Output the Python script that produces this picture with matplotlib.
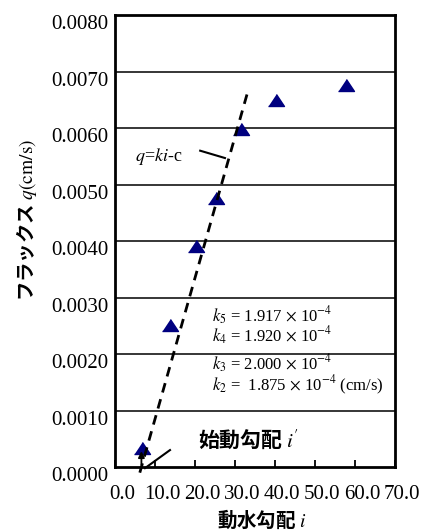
import numpy as np
import matplotlib.pyplot as plt
import matplotlib.transforms as mtransforms

plt.rcParams['font.family'] = ['Liberation Serif', 'Noto Sans CJK JP']
plt.rcParams['mathtext.fontset'] = 'stix'

# 測定データ（動水勾配 i, フラックス q）
i_vals = [6.7, 13.75, 20.25, 25.25, 31.4, 40.3, 57.8]
q_vals = [0.00034, 0.00251, 0.00391, 0.00477, 0.00599, 0.00649, 0.00677]

# 近似直線 q = k i - c の両端
fit_i = [6.2, 33.3]
fit_q = [-0.0001, 0.00667]

x_ticks = [0, 10, 20, 30, 40, 50, 60, 70]
y_ticks = [0.000, 0.001, 0.002, 0.003, 0.004, 0.005, 0.006, 0.007, 0.008]

k_labels = [
    r"$k_5$ = 1.917 $\times$ 10$^{-4}$",
    r"$k_4$ = 1.920 $\times$ 10$^{-4}$",
    r"$k_3$ = 2.000 $\times$ 10$^{-4}$",
    r"$k_2$ =  1.875 $\times$ 10$^{-4}$ (cm/s)",
]
k_y = [0.00268, 0.00232, 0.00183, 0.00144]

fig = plt.figure(figsize=(4.26, 5.31), dpi=100)
ax = fig.add_axes([0.270, 0.1205, 0.657, 0.851])

# グリッド（横線のみ）
for yv in y_ticks[1:-1]:
    ax.axhline(yv, color='black', lw=1.1, zorder=1)

ax.plot(fit_i, fit_q, color='black', lw=2.0, ls=(0, (3.5, 2.5)), zorder=3,
        clip_on=False)

tri = [(-1, -0.75), (1, -0.75), (0, 0.75)]
ax.plot(i_vals, q_vals, ls='none', marker=tri, markersize=11.5,
        color='#000080', zorder=2)

ax.set_xlim(0, 70)
ax.set_ylim(0, 0.008)
ax.set_xticks(x_ticks)
ax.set_xticklabels([f"{v:.1f}" for v in x_ticks])
ax.set_yticks(y_ticks)
ax.set_yticklabels([f"{v:.4f}" for v in y_ticks])
ax.tick_params(axis='x', direction='in', length=5, width=1.3, pad=13,
               labelsize=15)
ax.tick_params(axis='y', length=0, pad=5, labelsize=15)
for s in ax.spines.values():
    s.set_linewidth(2.0)

# ラベルの位置ずれ（元図の通り少し右・下）
dx = mtransforms.ScaledTranslation(7 / 100, 0, fig.dpi_scale_trans)
for lab in ax.get_xticklabels():
    lab.set_transform(lab.get_transform() + dx)
dy = mtransforms.ScaledTranslation(0, -7 / 100, fig.dpi_scale_trans)
for lab in ax.get_yticklabels():
    lab.set_transform(lab.get_transform() + dy)

# 注記
ax.text(5.0, 0.0055, r"$q$=$ki$-c", fontsize=13, va='center', ha='left')
ax.plot([21.3, 27.5], [0.00560, 0.00547], color='black', lw=1.5)

for lab, yv in zip(k_labels, k_y):
    ax.text(24.2, yv, lab, fontsize=12, va='center', ha='left')

ax.text(20.8, 0.00049, "始動勾配 $i'$", fontsize=15, va='center', ha='left',
        family=['Noto Sans CJK JP', 'DejaVu Sans'], fontweight='bold')
ax.plot([13.75, 7.5], [0.00030, -0.00002], color='black', lw=1.5,
        clip_on=False)
ax.annotate('', xy=(6.6, 0.00033), xytext=(6.6, -0.00001),
            arrowprops=dict(arrowstyle='-|>', color='black', lw=1.3,
                            mutation_scale=9), annotation_clip=False)

fig.text(262 / 426, 1 - 519 / 531, r"動水勾配 $i$", fontsize=14,
         ha='center', va='center', fontweight='bold',
         family=['Noto Sans CJK JP', 'DejaVu Sans'])
fig.text(27 / 426, 1 - 220 / 531, r"フラックス $q\mathrm{(cm/s)}$", fontsize=14,
         ha='center', va='center', rotation=90, fontweight='bold',
         family=['Noto Sans CJK JP', 'DejaVu Sans'])

fig.savefig('out.png', dpi=100)
